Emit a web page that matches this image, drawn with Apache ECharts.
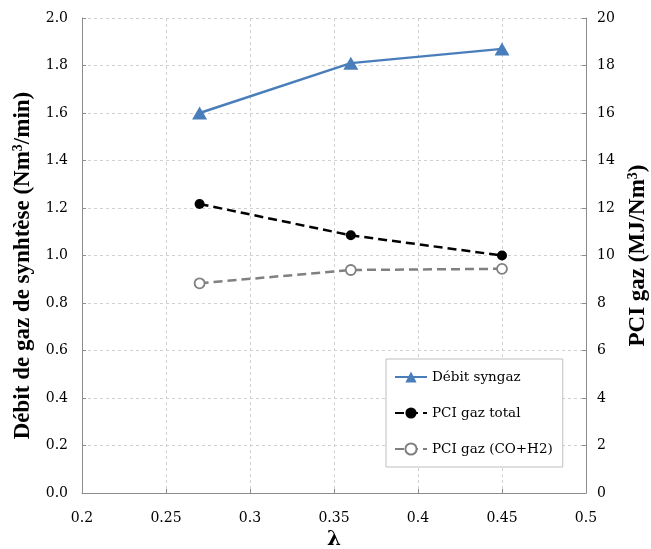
<!DOCTYPE html>
<html>
<head>
<meta charset="utf-8">
<script src="https://cdn.jsdelivr.net/npm/echarts@6/dist/echarts.min.js"></script>
<style>html,body{margin:0;padding:0;background:#fff;}#c{width:651px;height:549px;}</style>
</head>
<body>
<div id="c"></div>
<script>
const lambdaValues = [0.27, 0.36, 0.45];
const debitSyngaz = [1.60, 1.81, 1.87];
const pciTotal = [12.17, 10.85, 10.0];
const pciCoH2 = [8.83, 9.39, 9.44];
const seriesNames = ['Débit syngaz', 'PCI gaz total', 'PCI gaz (CO+H2)'];

const FONT = 'DejaVu Serif';
const TFONT = 'Liberation Serif';
const chart = echarts.init(document.getElementById('c'));
const pair = (xs, ys) => xs.map((x, i) => [x, ys[i]]);
const grid = {lineStyle: {color: '#d0d0d0', type: [3, 3], width: 1}};
const richName = {
  a: {fontFamily: TFONT, fontSize: 23, fontWeight: 'bold', color: '#000'},
  s: {fontFamily: TFONT, fontSize: 14, fontWeight: 'bold', color: '#000', verticalAlign: 'top', padding: [0, 0, 10, 0]}
};
chart.setOption({
  backgroundColor: '#fff',
  animation: false,
  grid: {left: 82, right: 65, top: 18, bottom: 56, outerBoundsMode: 'none', containLabel: false},
  legend: {
    orient: 'vertical', left: 386, top: 359,
    padding: [11, 10, 11, 8], itemGap: 22,
    itemWidth: 32, itemHeight: 14,
    borderColor: '#bfbfbf', borderWidth: 1, backgroundColor: '#fff',
    textStyle: {fontFamily: FONT, fontSize: 13.5, color: '#000'},
    data: seriesNames
  },
  xAxis: {
    type: 'value', min: 0.2, max: 0.5, interval: 0.05,
    name: 'λ', nameLocation: 'middle', nameGap: 33,
    nameTextStyle: {fontFamily: FONT, fontSize: 20, fontWeight: 'bold', color: '#000'},
    axisLine: {lineStyle: {color: '#8c8c8c'}},
    axisTick: {show: true, inside: true, length: 4, lineStyle: {color: '#8c8c8c'}},
    axisLabel: {fontFamily: FONT, fontSize: 14, color: '#000', margin: 18,
      formatter: v => String(+v.toFixed(2))},
    splitLine: Object.assign({show: true}, grid)
  },
  yAxis: [{
    type: 'value', min: 0, max: 2, interval: 0.2, position: 'left',
    name: '{a|Débit de gaz de synhtèse (Nm}{s|3}{a|/min)}', nameLocation: 'middle', nameGap: 41, nameRotate: 90,
    nameTextStyle: {rich: richName, padding: [0, 20, 0, 0]},
    axisLine: {show: true, lineStyle: {color: '#8c8c8c'}},
    axisTick: {show: true, inside: true, length: 4, lineStyle: {color: '#8c8c8c'}},
    axisLabel: {fontFamily: FONT, fontSize: 14, color: '#000', margin: 14, formatter: v => v.toFixed(1)},
    splitLine: Object.assign({show: true}, grid)
  }, {
    type: 'value', min: 0, max: 20, interval: 2, position: 'right',
    name: '{a|PCI gaz (MJ/Nm}{s|3}{a|)}', nameLocation: 'middle', nameGap: 40, nameRotate: 90,
    nameTextStyle: {rich: richName},
    axisLine: {show: true, lineStyle: {color: '#8c8c8c'}},
    axisTick: {show: true, inside: true, length: 4, lineStyle: {color: '#8c8c8c'}},
    axisLabel: {fontFamily: FONT, fontSize: 14, color: '#000', margin: 11},
    splitLine: {show: false}
  }],
  series: [{
    name: seriesNames[0], type: 'line', yAxisIndex: 0,
    data: pair(lambdaValues, debitSyngaz),
    symbol: 'triangle', symbolSize: [15, 13],
    itemStyle: {color: '#4a7ebb'},
    lineStyle: {color: '#4a7ebb', width: 2.5}
  }, {
    name: seriesNames[1], type: 'line', yAxisIndex: 1,
    data: pair(lambdaValues, pciTotal),
    symbol: 'circle', symbolSize: 10,
    itemStyle: {color: '#000'},
    lineStyle: {color: '#000', width: 2.5, type: [9, 5]}
  }, {
    name: seriesNames[2], type: 'line', yAxisIndex: 1,
    data: pair(lambdaValues, pciCoH2),
    symbol: 'circle', symbolSize: 10, showAllSymbol: true,
    itemStyle: {color: '#fff', borderColor: '#808080', borderWidth: 1.8},
    lineStyle: {color: '#808080', width: 2.5, type: [9, 5]}
  }]
});
</script>
</body>
</html>
